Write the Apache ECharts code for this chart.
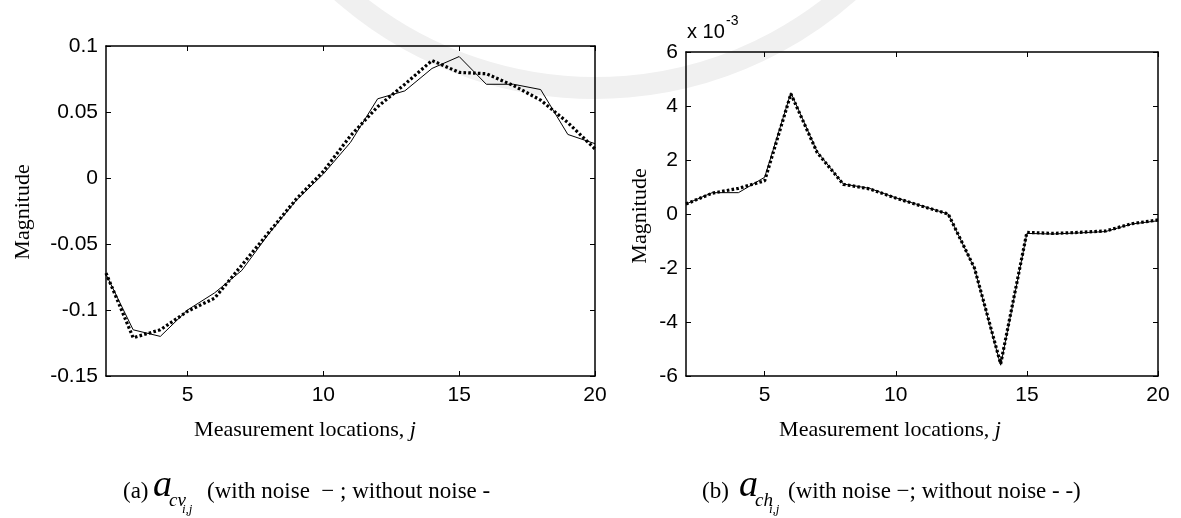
<!DOCTYPE html>
<html>
<head>
<meta charset="utf-8">
<script src="https://cdn.jsdelivr.net/npm/echarts@6/dist/echarts.min.js"></script>
<style>
html,body{margin:0;padding:0;background:#fff;}
#c{width:1181px;height:518px;}
</style>
</head>
<body>
<div id="c"></div>
<script>
// ---- data ----
const locations = [2,3,4,5,6,7,8,9,10,11,12,13,14,15,16,17,18,19,20];
const cvWithNoise    = [-0.073,-0.115,-0.120,-0.100,-0.087,-0.070,-0.042,-0.017,0.003,0.027,0.060,0.066,0.083,0.092,0.071,0.071,0.067,0.033,0.026];
const cvWithoutNoise = [-0.072,-0.121,-0.115,-0.101,-0.091,-0.066,-0.041,-0.016,0.005,0.032,0.054,0.071,0.089,0.080,0.079,0.070,0.059,0.042,0.022];
// values in units of 1e-3
const chWithNoise    = [0.37,0.79,0.79,1.36,4.49,2.31,1.11,0.95,0.60,0.30,0.00,-2.01,-5.60,-0.72,-0.74,-0.70,-0.65,-0.37,-0.25];
const chWithoutNoise = [0.37,0.77,0.95,1.23,4.45,2.28,1.10,0.93,0.59,0.29,0.00,-2.00,-5.55,-0.68,-0.72,-0.68,-0.63,-0.36,-0.22];
const xTicks = [5,10,15,20];
const cvTicks = [-0.15,-0.1,-0.05,0,0.05,0.1];
const cvTickLabels = ['-0.15','-0.1','-0.05','0','0.05','0.1'];
const chTicks = [-6,-4,-2,0,2,4,6];
const chTickLabels = ['-6','-4','-2','0','2','4','6'];

const pairs = (xs, ys) => xs.map((x, i) => [x, ys[i]]);

const chart = echarts.init(document.getElementById('c'), null, {renderer:'canvas'});

const sansLabel = {fontFamily:'Liberation Sans, Arial, sans-serif', fontSize:21, color:'#000'};
const axLine = {show:true, onZero:false, lineStyle:{color:'#000', width:1.5}};
const tickIn = (vals) => ({show:true, inside:true, length:5, lineStyle:{color:'#000', width:1}, customValues: vals});

function xAxes(gridIndex){
  return [
    {type:'value', gridIndex, position:'bottom', min:2, max:20,
     axisLine:axLine, axisTick:tickIn(xTicks),
     axisLabel:Object.assign({show:true, margin:9, customValues:xTicks}, sansLabel),
     splitLine:{show:false}},
    {type:'value', gridIndex, position:'top', min:2, max:20,
     axisLine:axLine, axisTick:tickIn(xTicks), axisLabel:{show:false, customValues:xTicks}, splitLine:{show:false}}
  ];
}
function yAxes(gridIndex, min, max, ticks, labels){
  const fmt = (v) => { const k = ticks.findIndex(t => Math.abs(t - v) < 1e-9); return k >= 0 ? labels[k] : ''; };
  return [
    {type:'value', gridIndex, position:'left', min, max,
     axisLine:axLine, axisTick:tickIn(ticks),
     axisLabel:Object.assign({show:true, margin:8, customValues:ticks, formatter:fmt}, sansLabel),
     splitLine:{show:false}},
    {type:'value', gridIndex, position:'right', min, max,
     axisLine:axLine, axisTick:tickIn(ticks), axisLabel:{show:false, customValues:ticks}, splitLine:{show:false}}
  ];
}

const solid = {color:'#000', width:1, type:'solid'};
const dotted = {color:'#000', width:3.2, type:[2.6,2.2], cap:'butt'};

function line(xi, yi, data, style){
  return {type:'line', xAxisIndex:xi, yAxisIndex:yi, data, showSymbol:false, symbol:'none',
          lineStyle:style, silent:true, animation:false, clip:true, z:5};
}

const serif = 'Liberation Serif, Times New Roman, serif';
const t = (x, y, text, font, extra, rot) => ({type:'text', x, y, z:10, rotation:rot || 0,
  style:Object.assign({text, font, fill:'#000', align:'left', verticalAlign:'middle'}, extra || {})});

chart.setOption({
  animation:false,
  backgroundColor:'#fff',
  grid:[
    {left:106, top:46, width:489, height:330},
    {left:686, top:52, width:472, height:324}
  ],
  xAxis:[...xAxes(0), ...xAxes(1)],
  yAxis:[...yAxes(0,-0.15,0.1,cvTicks,cvTickLabels), ...yAxes(1,-6,6,chTicks,chTickLabels)],
  series:[
    line(0,0,pairs(locations,cvWithNoise),solid),
    line(0,0,pairs(locations,cvWithoutNoise),dotted),
    line(2,2,pairs(locations,chWithNoise),solid),
    line(2,2,pairs(locations,chWithoutNoise),dotted)
  ],
  graphic:[
    // faint background watermark
    {type:'arc', z:-10, silent:true, shape:{cx:595, cy:-294, r:382, startAngle:0.70, endAngle:2.44, clockwise:true},
     style:{stroke:'#f0f0f0', lineWidth:22, fill:null}},
    // y-axis names
    t(23, 212, 'Magnitude', '22px '+serif, {align:'center'}, Math.PI/2),
    t(640, 216, 'Magnitude', '22px '+serif, {align:'center'}, Math.PI/2),
    // x-axis names
    {type:'text', x:305, y:430, z:10, style:{text:'{r|Measurement locations, }{i|j}', align:'center', verticalAlign:'middle',
      rich:{r:{fontFamily:serif, fontSize:22, color:'#000'}, i:{fontFamily:serif, fontSize:22, fontStyle:'italic', color:'#000'}}}},
    {type:'text', x:890, y:430, z:10, style:{text:'{r|Measurement locations, }{i|j}', align:'center', verticalAlign:'middle',
      rich:{r:{fontFamily:serif, fontSize:22, color:'#000'}, i:{fontFamily:serif, fontSize:22, fontStyle:'italic', color:'#000'}}}},
    // exponent label
    t(687, 32, 'x 10', '20px Liberation Sans, Arial, sans-serif'),
    t(726, 21, '-3', '14px Liberation Sans, Arial, sans-serif'),
    // caption (a)
    t(123, 492, '(a)', '23px '+serif),
    t(153, 486, 'a', 'italic 38px '+serif),
    t(169, 501, 'cv', 'italic 19px '+serif),
    t(182, 510, 'i,j', 'italic 13px '+serif),
    t(207, 492, '(with noise  \u2212 ; without noise -', '23px '+serif),
    // caption (b)
    t(702, 492, '(b)', '23px '+serif),
    t(739, 486, 'a', 'italic 38px '+serif),
    t(755, 501, 'ch', 'italic 19px '+serif),
    t(769, 510, 'i,j', 'italic 13px '+serif),
    t(788, 492, '(with noise \u2212; without noise - -)', '23px '+serif)
  ]
});
</script>
</body>
</html>
